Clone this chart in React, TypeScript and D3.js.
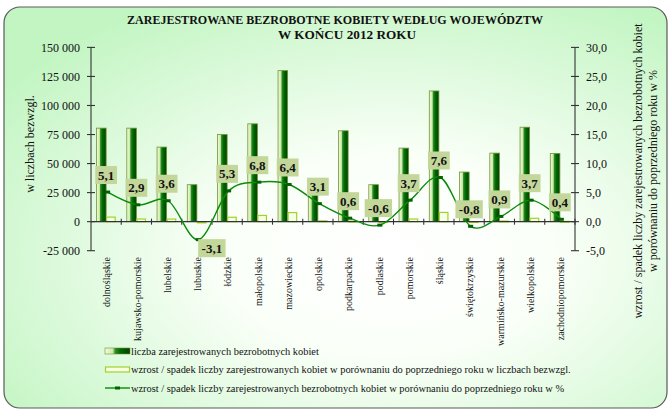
import React from 'react';
import * as d3 from 'd3';

const categories = ['dolnośląskie', 'kujawsko-pomorskie', 'lubelskie', 'lubuskie', 'łódzkie', 'małopolskie', 'mazowieckie', 'opolskie', 'podkarpackie', 'podlaskie', 'pomorskie', 'śląskie', 'świętokrzyskie', 'warmińsko-mazurskie', 'wielkopolskie', 'zachodniopomorskie'];
const unemployed = [80500, 80500, 64200, 31800, 75000, 84200, 130000, 23000, 78200, 31800, 63300, 112500, 42700, 59000, 81300, 58700];
const changeAbs = [3900, 2270, 2230, -1020, 3780, 5360, 7820, 690, 470, -190, 2260, 7950, -340, 530, 2900, 230];
const changePct = [5.1, 2.9, 3.6, -3.1, 5.3, 6.8, 6.4, 3.1, 0.6, -0.6, 3.7, 7.6, -0.8, 0.9, 3.7, 0.4];
const leftTicks = [-25000, 0, 25000, 50000, 75000, 100000, 125000, 150000];
const rightTicks = [-5, 0, 5, 10, 15, 20, 25, 30];
const titleLines = ['ZAREJESTROWANE BEZROBOTNE KOBIETY  WEDŁUG WOJEWÓDZTW', 'W  KOŃCU 2012  ROKU'];
const leftTitle = 'w liczbach bezwzgl.';
const rightTitle = ['wzrost / spadek liczby zarejestrowanych bezrobotnych kobiet', 'w porównaniu do poprzedniego roku w %'];
const legendLabels = [
  'liczba zarejestrowanych bezrobotnych kobiet',
  'wzrost / spadek liczby zarejestrowanych kobiet w porównaniu do poprzedniego roku w liczbach bezwzgl.',
  'wzrost / spadek liczby zarejestrowanych bezrobotnych kobiet w porównaniu do poprzedniego roku w %',
];

const W = 671;
const H = 414;
const FONT = '"Liberation Serif", "Times New Roman", serif';

const locale = d3.formatLocale({ decimal: ',', thousands: '\u00a0', grouping: [3], currency: ['', ''], minus: '-' });
const fmtL = locale.format(',');
const fmtR = locale.format('.1f');

export default function App() {
  const plotL = 91;
  const plotR = 575;
  const yTop = 47.4;
  const yBot = 250.7;
  const yL = d3.scaleLinear().domain([-25000, 150000]).range([yBot, yTop]);
  const yR = d3.scaleLinear().domain([-5, 30]).range([yBot, yTop]);
  const x0 = d3.scaleBand().domain(categories).range([plotL, plotR]).padding(0);
  const x1 = d3.scaleBand().domain(['a', 'b']).range([0, x0.bandwidth()]).paddingInner(0).paddingOuter(0.58);
  const cx = (i: number) => (x0(categories[i]) as number) + x0.bandwidth() / 2;
  const lineX = (i: number) => cx(i) + 1.5;

  const line = d3
    .line<number>()
    .x((_, i) => lineX(i))
    .y((d) => yR(d))
    .curve(d3.curveCardinal.tension(0));

  const labelNudge: Record<number, { dx: number; below: boolean }> = { 3: { dx: 15, below: true } };

  const y0 = yL(0);

  return (
    <svg width={W} height={H} style={{ position: 'absolute', left: 0, top: 0, display: 'block' }} fontFamily={FONT}>
      <defs>
        <radialGradient id="bg" cx="0.58" cy="0.62" r="0.72">
          <stop offset="0" stopColor="#ffffff" />
          <stop offset="0.35" stopColor="#fafff8" />
          <stop offset="1" stopColor="#c2f5c2" />
        </radialGradient>
        <linearGradient id="barGrad" x1="0" y1="0" x2="1" y2="0">
          <stop offset="0" stopColor="#f2fbe2" />
          <stop offset="0.3" stopColor="#cfeaa4" />
          <stop offset="0.42" stopColor="#2a8a2a" />
          <stop offset="0.62" stopColor="#006a00" />
          <stop offset="1" stopColor="#004000" />
        </linearGradient>
      </defs>
      <rect x={0} y={0} width={W} height={H} fill="#ffffff" />
      <rect x={4} y={7} width={663} height={401} rx={16} ry={16} fill="url(#bg)" stroke="#5a5a5a" strokeWidth={1.2} />

      <text x={335} y={24} textAnchor="middle" fontSize={13} fontWeight="bold" fill="#111" textLength={416} lengthAdjust="spacingAndGlyphs">
        {titleLines[0]}
      </text>
      <text x={347} y={38.5} textAnchor="middle" fontSize={13} fontWeight="bold" fill="#111" textLength={138} lengthAdjust="spacingAndGlyphs">
        {titleLines[1]}
      </text>

      {/* bars */}
      {unemployed.map((v, i) => {
        const xb = (x0(categories[i]) as number) + (x1('a') as number);
        return (
          <rect key={'m' + i} x={xb} y={yL(v)} width={x1.bandwidth()} height={y0 - yL(v)} fill="url(#barGrad)" stroke="#6f9434" strokeWidth={0.8} />
        );
      })}
      {changeAbs.map((v, i) => {
        const xb = (x0(categories[i]) as number) + (x1('b') as number);
        const top = Math.min(yL(v), y0);
        const h = Math.max(Math.abs(yL(v) - y0), 0.8);
        return <rect key={'c' + i} x={xb + 0.5} y={top} width={x1.bandwidth() - 1} height={h} fill="#f4ffe4" stroke="#a2d22a" strokeWidth={1.2} />;
      })}

      {/* axes */}
      <g stroke="#333" strokeWidth={1.1}>
        <line x1={plotL} x2={plotL} y1={yTop} y2={yBot} />
        {leftTicks.map((t) => (
          <line key={t} x1={plotL - 4} x2={plotL + 4} y1={yL(t)} y2={yL(t)} />
        ))}
        <line x1={plotR} x2={plotR} y1={yTop} y2={yBot} />
        {rightTicks.map((t) => (
          <line key={t} x1={plotR - 4} x2={plotR + 4} y1={yR(t)} y2={yR(t)} />
        ))}
        <line x1={plotL} x2={plotR} y1={y0} y2={y0} />
        {categories.map((c) => (
          <line key={c} x1={(x0(c) as number) + x0.bandwidth()} x2={(x0(c) as number) + x0.bandwidth()} y1={y0 - 3} y2={y0 + 3} />
        ))}
      </g>
      {leftTicks.map((t) => (
        <text key={t} x={80} y={yL(t)} dy="0.35em" textAnchor="end" fontSize={12} fill="#111">
          {fmtL(t)}
        </text>
      ))}
      {rightTicks.map((t) => (
        <text key={t} x={586} y={yR(t)} dy="0.35em" textAnchor="start" fontSize={12} fill="#111">
          {fmtR(t)}
        </text>
      ))}

      {/* category labels */}
      {categories.map((c, i) => (
        <text key={c} transform={`translate(${cx(i) + 0.7},257) rotate(-90)`} textAnchor="end" dy="0.35em" fontSize={10} fill="#111">
          {c}
        </text>
      ))}

      {/* axis titles */}
      <text transform="translate(30,144) rotate(-90)" textAnchor="middle" dy="0.35em" fontSize={12} fill="#111">
        {leftTitle}
      </text>
      {rightTitle.map((t, i) => (
        <text key={i} transform={`translate(${638 + i * 14.5},171) rotate(-90)`} textAnchor="middle" dy="0.35em" fontSize={12} fill="#111">
          {t}
        </text>
      ))}

      {/* line */}
      <path d={line(changePct) as string} fill="none" stroke="#0b8a0b" strokeWidth={1.4} />
      {changePct.map((v, i) => (
        <rect key={'p' + i} x={lineX(i) - 2.5} y={yR(v) - 1.5} width={5} height={3} fill="#006400" />
      ))}

      {/* data labels */}
      {changePct.map((v, i) => {
        const txt = fmtR(v);
        const w = txt.length * 5.6 + 5;
        const nudge = labelNudge[i];
        const lx = cx(i) + (nudge ? nudge.dx : 0);
        const ly = nudge && nudge.below ? yR(v) + 8.5 : yR(v) - 17;
        return (
          <g key={'l' + i}>
            <rect x={lx - w / 2} y={ly - 9} width={w} height={18} fill="#c4d79b" />
            <text x={lx} y={ly} dy="0.35em" textAnchor="middle" fontSize={13} fontWeight="bold" fill="#111">
              {txt}
            </text>
          </g>
        );
      })}

      {/* legend */}
      {legendLabels.map((t, i) => {
        const ly = 351 + i * 18.5;
        return (
          <g key={'lg' + i}>
            {i === 0 && <rect x={105} y={ly - 3} width={25} height={6} fill="url(#barGrad)" stroke="#6f9434" strokeWidth={0.6} />}
            {i === 1 && <rect x={105.5} y={ly - 2.5} width={24} height={5} fill="#f4ffe4" stroke="#a2d22a" strokeWidth={1.2} />}
            {i === 2 && (
              <g>
                <line x1={105} x2={130} y1={ly} y2={ly} stroke="#0b8a0b" strokeWidth={1.4} />
                <rect x={115} y={ly - 1.5} width={5} height={3} fill="#006400" />
              </g>
            )}
            <text x={131} y={ly} dy="0.35em" fontSize={10.4} fill="#111">
              {t}
            </text>
          </g>
        );
      })}
    </svg>
  );
}
